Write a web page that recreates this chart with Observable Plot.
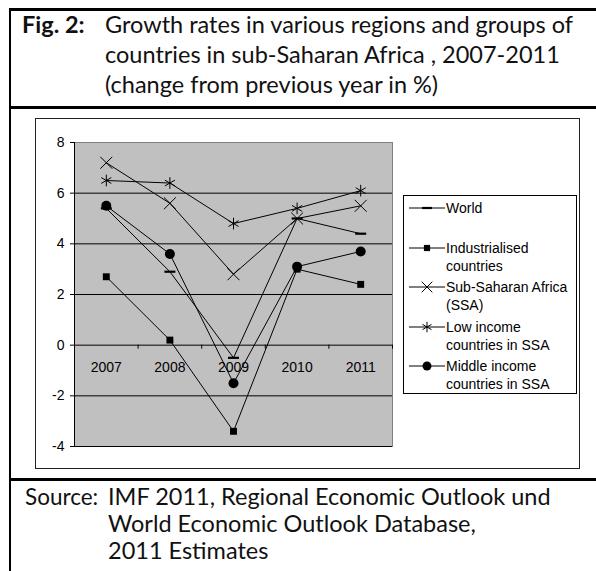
<!DOCTYPE html>
<html>
<head>
<meta charset="utf-8">
<script src="https://cdn.jsdelivr.net/npm/d3@7"></script>
<script src="https://cdn.jsdelivr.net/npm/@observablehq/plot@0.6"></script>
<style>
  html, body { margin: 0; padding: 0; background: #fff; }
  #page { position: relative; width: 596px; height: 571px; background: #fff; overflow: hidden; }
  .rule { position: absolute; background: #000; }
  .hdr { position: absolute; font-family: Lato, "Open Sans", sans-serif; font-size: 23.5px; line-height: 30px; color: #111; white-space: nowrap; }
  .src { position: absolute; font-family: Lato, "Open Sans", sans-serif; font-size: 23.5px; line-height: 27px; color: #111; white-space: nowrap; }
  #chartbox { position: absolute; left: 35px; top: 118px; border: 1px solid #222; width: 543px; height: 349px; }
  #chartbox svg { display: block; }
  #legend { position: absolute; left: 403px; top: 195px; width: 172px; height: 197px; border: 1px solid #000; background: #fff;
            font-family: "Liberation Sans", Arial, sans-serif; font-size: 14px; color: #000; }
  .item { position: absolute; left: 0; width: 172px; }
  .item svg { position: absolute; left: 4px; top: 1px; }
  .item .lab { position: absolute; left: 42px; top: 0; line-height: 18px; white-space: nowrap; }
</style>
</head>
<body>
<div id="page">
  <div class="rule" style="left:9px;top:8px;width:587px;height:3px"></div>
  <div class="rule" style="left:9px;top:8px;width:2px;height:563px"></div>
  <div class="rule" style="left:9px;top:106px;width:587px;height:3px"></div>
  <div class="rule" style="left:9px;top:478px;width:587px;height:3px"></div>

  <div class="hdr" style="left:22px;top:9px;font-weight:bold">Fig. 2:</div>
  <div class="hdr" style="left:105px;top:9px">Growth rates in various regions and groups of<br>countries in sub-Saharan Africa , 2007-2011<br>(change from previous year in %)</div>

  <div id="chartbox"></div>
  <div id="legend"></div>

  <div class="src" style="left:25px;top:483px;font-size:22.5px">Source:</div>
  <div class="src" style="left:108px;top:483px">IMF 2011, Regional Economic Outlook und<br>World Economic Outlook Database,<br>2011 Estimates</div>
</div>
<script>
// ---- data ----
const years = [2007, 2008, 2009, 2010, 2011];
const world = [5.4, 2.9, -0.5, 5.0, 4.4];
const industrialised = [2.7, 0.2, -3.4, 3.0, 2.4];
const ssa = [7.2, 5.6, 2.8, 5.0, 5.5];
const lowIncome = [6.5, 6.4, 4.8, 5.4, 6.1];
const middleIncome = [5.5, 3.6, -1.5, 3.1, 3.7];
const seriesLabels = [
  ["World", ""],
  ["Industrialised", "countries"],
  ["Sub-Saharan Africa", "(SSA)"],
  ["Low income", "countries in SSA"],
  ["Middle income", "countries in SSA"]
];
const yTicks = [-4, -2, 0, 2, 4, 6, 8];

// ---- symbols ----
const dash = { draw(ctx, size) { const r = Math.sqrt(size / Math.PI); ctx.moveTo(-r, 0); ctx.lineTo(r, 0); } };
const seriesValues = [world, industrialised, ssa, lowIncome, middleIncome];
const symbolStyles = [
  { symbol: dash, r: 5.5, fill: "none", stroke: "black", strokeWidth: 2.2 },
  { symbol: "square", r: 3.9, fill: "black", stroke: "none", strokeWidth: 0 },
  { symbol: "times", r: 5.5, fill: "none", stroke: "black", strokeWidth: 1 },
  { symbol: "asterisk", r: 5.5, fill: "none", stroke: "black", strokeWidth: 1 },
  { symbol: "circle", r: 5, fill: "black", stroke: "none", strokeWidth: 0 }
];

const data = seriesValues.flatMap((vals, s) =>
  years.map((yr, i) => ({ year: yr, value: vals[i], series: seriesLabels[s].join(" ").trim(), s }))
);

const xDomain = [years[0] - 0.5, years[years.length - 1] + 0.5];
const bounds = [xDomain[0], ...years.map(y => y + 0.5)];

const plot = Plot.plot({
  width: 543,
  height: 349,
  marginLeft: 38,
  marginTop: 23,
  marginRight: 187,
  marginBottom: 22,
  x: { type: "linear", domain: xDomain, axis: null },
  y: { domain: [yTicks[0], yTicks[yTicks.length - 1]], axis: null },
  style: { fontFamily: "'Liberation Sans', Arial, sans-serif", fontSize: "14px", background: "white", color: "black", overflow: "visible" },
  marks: [
    Plot.frame({ fill: "#c0c0c0", stroke: "#808080" }),
    Plot.gridY(yTicks.filter(t => t !== yTicks[yTicks.length - 1]), { stroke: "black", strokeOpacity: 1, strokeWidth: 1 }),
    Plot.ruleX([xDomain[0]], { stroke: "black" }),
    Plot.axisY(yTicks, { label: null, tickSize: 4, tickPadding: 6, stroke: "black", tickFormat: d => String(d), fontSize: 14 }),
    Plot.ruleX(bounds, { y1: () => 0, y2: () => 0, insetBottom: -4, stroke: "black" }),
    Plot.text(years, { x: d => d, y: () => 0, dy: 22, text: d => String(d), fill: "black", fontSize: 14 }),
    Plot.line(data, { x: "year", y: "value", z: "series", stroke: "black", strokeWidth: 1 }),
    ...symbolStyles.map((st, s) =>
      Plot.dot(data.filter(d => d.s === s), {
        x: "year", y: "value", symbol: st.symbol, r: st.r,
        fill: st.fill, stroke: st.stroke, strokeWidth: st.strokeWidth
      })
    )
  ]
});
document.getElementById("chartbox").appendChild(plot);

// ---- legend ----
const legend = d3.select("#legend");
seriesLabels.forEach((lab, i) => {
  const st = symbolStyles[i];
  const item = legend.append("div").attr("class", "item").style("top", (3 + i * 39.6) + "px");
  const svg = item.append("svg").attr("width", 38).attr("height", 16);
  svg.append("line").attr("x1", 1).attr("x2", 37).attr("y1", 8).attr("y2", 8).attr("stroke", "black");
  const type = typeof st.symbol === "string" ? d3["symbol" + st.symbol[0].toUpperCase() + st.symbol.slice(1)] : st.symbol;
  svg.append("path")
    .attr("transform", "translate(19,8)")
    .attr("d", d3.symbol(type, Math.PI * st.r * st.r * 0.8)())
    .attr("fill", st.fill).attr("stroke", st.stroke).attr("stroke-width", st.strokeWidth);
  item.append("div").attr("class", "lab").html(lab[0] + (lab[1] ? "<br>" + lab[1] : ""));
});
</script>
</body>
</html>
